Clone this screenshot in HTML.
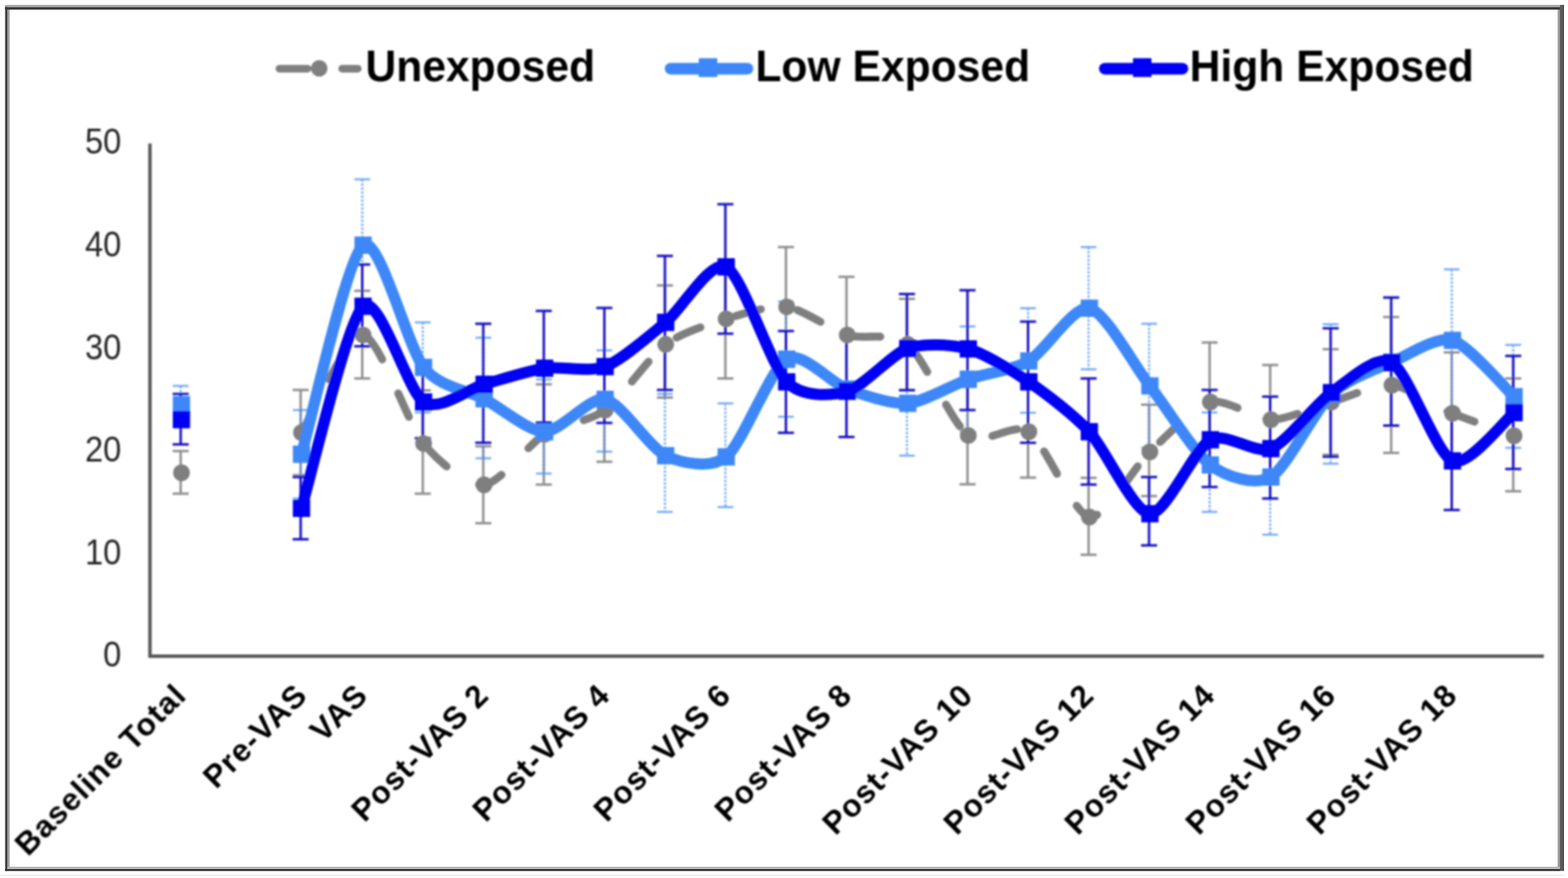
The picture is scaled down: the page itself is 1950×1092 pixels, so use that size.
<!DOCTYPE html>
<html lang="en">
<head>
<meta charset="utf-8">
<title>VAS chart: Unexposed, Low Exposed, High Exposed</title>
<style>
html,body{margin:0;padding:0;background:#ffffff;}
body{width:1950px;height:1092px;overflow:hidden;font-family:"Liberation Sans",Arial,Helvetica,sans-serif;}
svg{display:block;}
</style>
</head>
<body>
<svg role="img" aria-label="Line chart of Unexposed, Low Exposed and High Exposed groups across VAS time points" width="1950" height="1092" viewBox="0 0 1950 1092" font-family="'Liberation Sans', Arial, Helvetica, sans-serif">
<defs><filter id="soft" filterUnits="userSpaceOnUse" x="0" y="0" width="1950" height="1092"><feGaussianBlur stdDeviation="1.1"/></filter><filter id="soft2" filterUnits="userSpaceOnUse" x="0" y="0" width="1950" height="1092"><feGaussianBlur stdDeviation="0.45"/></filter></defs>
<rect x="0" y="0" width="1950" height="1092" fill="#ffffff"/>
<g filter="url(#soft)">
<path d="M186.5,178.5 V816.2 H1920.0" fill="none" stroke="#555555" stroke-width="4.2" stroke-linejoin="miter"/>
<text transform="translate(150.8,829.4) scale(1,1.09)" text-anchor="end" font-size="40.6" fill="#262626">0</text>
<text transform="translate(150.8,701.8) scale(1,1.09)" text-anchor="end" font-size="40.6" fill="#262626">10</text>
<text transform="translate(150.8,574.1) scale(1,1.09)" text-anchor="end" font-size="40.6" fill="#262626">20</text>
<text transform="translate(150.8,446.5) scale(1,1.09)" text-anchor="end" font-size="40.6" fill="#262626">30</text>
<text transform="translate(150.8,318.8) scale(1,1.09)" text-anchor="end" font-size="40.6" fill="#262626">40</text>
<text transform="translate(150.8,191.2) scale(1,1.09)" text-anchor="end" font-size="40.6" fill="#262626">50</text>
<g stroke="#848484" stroke-width="3.0" fill="none" opacity="0.9">
<path d="M224.7,561.0 V614.0"/>
<path d="M214.7,561.0 H234.7"/>
<path d="M214.7,614.0 H234.7"/>
<path d="M373.9,485.0 V591.0"/>
<path d="M363.9,485.0 H383.9"/>
<path d="M363.9,591.0 H383.9"/>
<path d="M450.5,361.7 V470.7"/>
<path d="M440.5,361.7 H460.5"/>
<path d="M440.5,470.7 H460.5"/>
<path d="M525.8,485.5 V614.0"/>
<path d="M515.8,485.5 H535.8"/>
<path d="M515.8,614.0 H535.8"/>
<path d="M601.0,555.0 V650.7"/>
<path d="M591.0,555.0 H611.0"/>
<path d="M591.0,650.7 H611.0"/>
<path d="M676.3,478.0 V602.7"/>
<path d="M666.3,478.0 H686.3"/>
<path d="M666.3,602.7 H686.3"/>
<path d="M751.6,452.0 V574.3"/>
<path d="M741.6,452.0 H761.6"/>
<path d="M741.6,574.3 H761.6"/>
<path d="M826.9,355.0 V494.5"/>
<path d="M816.9,355.0 H836.9"/>
<path d="M816.9,494.5 H836.9"/>
<path d="M902.1,322.7 V470.7"/>
<path d="M892.1,322.7 H912.1"/>
<path d="M892.1,470.7 H912.1"/>
<path d="M977.4,307.3 V456.0"/>
<path d="M967.4,307.3 H987.4"/>
<path d="M967.4,456.0 H987.4"/>
<path d="M1052.7,344.3 V489.0"/>
<path d="M1042.7,344.3 H1062.7"/>
<path d="M1042.7,489.0 H1062.7"/>
<path d="M1127.9,371.7 V485.0"/>
<path d="M1117.9,371.7 H1137.9"/>
<path d="M1117.9,485.0 H1137.9"/>
<path d="M1203.2,481.0 V602.3"/>
<path d="M1193.2,481.0 H1213.2"/>
<path d="M1193.2,602.3 H1213.2"/>
<path d="M1278.5,480.0 V594.0"/>
<path d="M1268.5,480.0 H1288.5"/>
<path d="M1268.5,594.0 H1288.5"/>
<path d="M1353.8,594.3 V690.0"/>
<path d="M1343.8,594.3 H1363.8"/>
<path d="M1343.8,690.0 H1363.8"/>
<path d="M1429.0,503.3 V617.0"/>
<path d="M1419.0,503.3 H1439.0"/>
<path d="M1419.0,617.0 H1439.0"/>
<path d="M1504.3,426.0 V574.0"/>
<path d="M1494.3,426.0 H1514.3"/>
<path d="M1494.3,574.0 H1514.3"/>
<path d="M1579.6,454.0 V590.0"/>
<path d="M1569.6,454.0 H1589.6"/>
<path d="M1569.6,590.0 H1589.6"/>
<path d="M1654.8,434.3 V565.7"/>
<path d="M1644.8,434.3 H1664.8"/>
<path d="M1644.8,565.7 H1664.8"/>
<path d="M1730.1,394.3 V563.3"/>
<path d="M1720.1,394.3 H1740.1"/>
<path d="M1720.1,563.3 H1740.1"/>
<path d="M1805.4,438.3 V560.0"/>
<path d="M1795.4,438.3 H1815.4"/>
<path d="M1881.9,470.7 V611.0"/>
<path d="M1871.9,470.7 H1891.9"/>
<path d="M1871.9,611.0 H1891.9"/>
</g>
<g stroke="#3d87f8" stroke-width="2.6" fill="none" opacity="0.7">
<path d="M224.7,480.0 V526.6" stroke-dasharray="3 2"/>
<path d="M214.9,480.0 H234.4"/>
<path d="M214.9,526.6 H234.4"/>
<path d="M373.9,510.0 V620.0" stroke-dasharray="3 2"/>
<path d="M364.2,510.0 H383.7"/>
<path d="M364.2,620.0 H383.7"/>
<path d="M450.5,223.0 V387.0" stroke-dasharray="3 2"/>
<path d="M440.8,223.0 H460.3"/>
<path d="M440.8,387.0 H460.3"/>
<path d="M525.8,401.0 V513.0" stroke-dasharray="3 2"/>
<path d="M516.0,401.0 H535.5"/>
<path d="M516.0,513.0 H535.5"/>
<path d="M601.0,420.0 V570.0" stroke-dasharray="3 2"/>
<path d="M591.3,420.0 H610.8"/>
<path d="M591.3,570.0 H610.8"/>
<path d="M676.3,472.0 V589.0" stroke-dasharray="3 2"/>
<path d="M666.6,472.0 H686.1"/>
<path d="M666.6,589.0 H686.1"/>
<path d="M751.6,435.8 V561.7" stroke-dasharray="3 2"/>
<path d="M741.8,435.8 H761.3"/>
<path d="M741.8,561.7 H761.3"/>
<path d="M826.9,490.0 V636.7" stroke-dasharray="3 2"/>
<path d="M817.1,490.0 H836.6"/>
<path d="M817.1,636.7 H836.6"/>
<path d="M902.1,501.7 V630.7" stroke-dasharray="3 2"/>
<path d="M892.4,501.7 H911.9"/>
<path d="M892.4,630.7 H911.9"/>
<path d="M977.4,375.0 V518.3" stroke-dasharray="3 2"/>
<path d="M967.6,375.0 H987.1"/>
<path d="M967.6,518.3 H987.1"/>
<path d="M1052.7,427.0 V543.0" stroke-dasharray="3 2"/>
<path d="M1127.9,437.0 V566.7" stroke-dasharray="3 2"/>
<path d="M1118.2,437.0 H1137.7"/>
<path d="M1118.2,566.7 H1137.7"/>
<path d="M1203.2,406.0 V537.0" stroke-dasharray="3 2"/>
<path d="M1193.5,406.0 H1213.0"/>
<path d="M1193.5,537.0 H1213.0"/>
<path d="M1278.5,383.3 V513.3" stroke-dasharray="3 2"/>
<path d="M1268.7,383.3 H1288.2"/>
<path d="M1268.7,513.3 H1288.2"/>
<path d="M1353.8,307.3 V459.3" stroke-dasharray="3 2"/>
<path d="M1344.0,307.3 H1363.5"/>
<path d="M1344.0,459.3 H1363.5"/>
<path d="M1429.0,402.7 V557.0" stroke-dasharray="3 2"/>
<path d="M1419.3,402.7 H1438.8"/>
<path d="M1419.3,557.0 H1438.8"/>
<path d="M1504.3,513.0 V636.7" stroke-dasharray="3 2"/>
<path d="M1494.5,513.0 H1514.0"/>
<path d="M1494.5,636.7 H1514.0"/>
<path d="M1579.6,521.0 V665.0" stroke-dasharray="3 2"/>
<path d="M1569.8,521.0 H1589.3"/>
<path d="M1569.8,665.0 H1589.3"/>
<path d="M1654.8,403.3 V576.7" stroke-dasharray="3 2"/>
<path d="M1645.1,403.3 H1664.6"/>
<path d="M1645.1,576.7 H1664.6"/>
<path d="M1730.1,370.3 V529.3" stroke-dasharray="3 2"/>
<path d="M1720.3,370.3 H1739.8"/>
<path d="M1720.3,529.3 H1739.8"/>
<path d="M1805.4,335.0 V511.0" stroke-dasharray="3 2"/>
<path d="M1795.6,335.0 H1815.1"/>
<path d="M1795.6,511.0 H1815.1"/>
<path d="M1881.9,429.0 V557.0" stroke-dasharray="3 2"/>
<path d="M1872.2,429.0 H1891.7"/>
<path d="M1872.2,557.0 H1891.7"/>
</g>
<g stroke="#180ec4" stroke-width="3.0" fill="none" opacity="1.0">
<path d="M224.7,490.0 V552.7"/>
<path d="M214.7,490.0 H234.7"/>
<path d="M214.7,552.7 H234.7"/>
<path d="M373.9,593.3 V670.7"/>
<path d="M363.9,593.3 H383.9"/>
<path d="M363.9,670.7 H383.9"/>
<path d="M450.5,329.0 V430.7"/>
<path d="M440.5,329.0 H460.5"/>
<path d="M440.5,430.7 H460.5"/>
<path d="M525.8,455.0 V545.0"/>
<path d="M515.8,455.0 H535.8"/>
<path d="M515.8,545.0 H535.8"/>
<path d="M601.0,402.7 V550.7"/>
<path d="M591.0,402.7 H611.0"/>
<path d="M591.0,550.7 H611.0"/>
<path d="M676.3,386.7 V525.5"/>
<path d="M666.3,386.7 H686.3"/>
<path d="M666.3,525.5 H686.3"/>
<path d="M751.6,383.0 V526.0"/>
<path d="M741.6,383.0 H761.6"/>
<path d="M741.6,526.0 H761.6"/>
<path d="M826.9,318.3 V485.0"/>
<path d="M816.9,318.3 H836.9"/>
<path d="M816.9,485.0 H836.9"/>
<path d="M902.1,254.0 V415.0"/>
<path d="M892.1,254.0 H912.1"/>
<path d="M892.1,415.0 H912.1"/>
<path d="M977.4,411.7 V538.3"/>
<path d="M967.4,411.7 H987.4"/>
<path d="M967.4,538.3 H987.4"/>
<path d="M1052.7,424.0 V543.5"/>
<path d="M1042.7,543.5 H1062.7"/>
<path d="M1127.9,365.7 V485.3"/>
<path d="M1117.9,365.7 H1137.9"/>
<path d="M1117.9,485.3 H1137.9"/>
<path d="M1203.2,361.0 V510.0"/>
<path d="M1193.2,361.0 H1213.2"/>
<path d="M1193.2,510.0 H1213.2"/>
<path d="M1278.5,400.0 V550.7"/>
<path d="M1268.5,400.0 H1288.5"/>
<path d="M1268.5,550.7 H1288.5"/>
<path d="M1353.8,470.7 V602.7"/>
<path d="M1343.8,470.7 H1363.8"/>
<path d="M1343.8,602.7 H1363.8"/>
<path d="M1429.0,593.3 V678.3"/>
<path d="M1419.0,593.3 H1439.0"/>
<path d="M1419.0,678.3 H1439.0"/>
<path d="M1504.3,485.0 V605.7"/>
<path d="M1494.3,485.0 H1514.3"/>
<path d="M1494.3,605.7 H1514.3"/>
<path d="M1579.6,493.3 V620.0"/>
<path d="M1569.6,493.3 H1589.6"/>
<path d="M1569.6,620.0 H1589.6"/>
<path d="M1654.8,408.3 V568.0"/>
<path d="M1644.8,408.3 H1664.8"/>
<path d="M1644.8,568.0 H1664.8"/>
<path d="M1730.1,370.0 V529.3"/>
<path d="M1720.1,370.0 H1740.1"/>
<path d="M1720.1,529.3 H1740.1"/>
<path d="M1805.4,512.0 V634.3"/>
<path d="M1795.4,512.0 H1815.4"/>
<path d="M1795.4,634.3 H1815.4"/>
<path d="M1881.9,442.7 V583.3"/>
<path d="M1871.9,442.7 H1891.9"/>
<path d="M1871.9,583.3 H1891.9"/>
</g>
<g fill="none" stroke="#7f7f7f" stroke-width="9.8" stroke-linecap="round" stroke-dasharray="32 46.56">
<path d="M374.9,538.0 C384.9,522.2 431.8,414.9 451.5,416.7" stroke-dashoffset="3.90"/>
<path d="M451.5,416.7 C471.2,418.5 507.2,527.5 526.8,551.7" stroke-dashoffset="71.05"/>
<path d="M526.8,551.7 C546.4,575.9 582.5,604.5 602.0,603.0" stroke-dashoffset="70.21"/>
<path d="M602.0,603.0 C621.6,601.5 657.7,552.1 677.3,540.0" stroke-dashoffset="6.42"/>
<path d="M677.3,540.0 C696.9,527.9 733.0,524.5 752.6,510.0" stroke-dashoffset="26.98"/>
<path d="M752.6,510.0 C772.2,495.5 808.3,443.0 827.9,428.3" stroke-dashoffset="29.78"/>
<path d="M827.9,428.3 C847.4,413.6 883.6,402.8 903.1,396.7" stroke-dashoffset="62.49"/>
<path d="M903.1,396.7 C922.7,390.6 958.8,379.1 978.4,381.7" stroke-dashoffset="65.92"/>
<path d="M978.4,381.7 C998.0,384.3 1034.1,410.6 1053.7,416.7" stroke-dashoffset="64.57"/>
<path d="M1053.7,416.7 C1073.2,422.8 1109.4,412.1 1128.9,428.3" stroke-dashoffset="69.30"/>
<path d="M1128.9,428.3 C1148.5,444.6 1184.6,527.6 1204.2,541.7" stroke-dashoffset="68.18"/>
<path d="M1204.2,541.7 C1223.8,555.8 1259.9,523.8 1279.5,537.0" stroke-dashoffset="47.70"/>
<path d="M1279.5,537.0 C1299.1,550.2 1335.2,639.8 1354.8,643.0" stroke-dashoffset="47.32"/>
<path d="M1354.8,643.0 C1374.3,646.2 1410.4,580.6 1430.0,562.0" stroke-dashoffset="21.63"/>
<path d="M1430.0,562.0 C1449.6,543.4 1485.7,505.2 1505.3,500.0" stroke-dashoffset="60.83"/>
<path d="M1505.3,500.0 C1524.9,494.8 1561.0,522.0 1580.6,522.0" stroke-dashoffset="75.42"/>
<path d="M1580.6,522.0 C1600.1,522.0 1636.3,505.6 1655.8,500.0" stroke-dashoffset="76.24"/>
<path d="M1655.8,500.0 C1675.4,494.4 1711.5,477.2 1731.1,479.0" stroke-dashoffset="76.36"/>
<path d="M1731.1,479.0 C1750.7,480.8 1786.6,505.8 1806.4,514.0" stroke-dashoffset="1.81"/>
<path d="M1806.4,514.0 C1826.1,522.2 1873.0,538.4 1882.9,542.0" stroke-dashoffset="2.61"/>
</g>
<circle cx="225.7" cy="588.0" r="10.5" fill="#7f7f7f"/>
<circle cx="374.9" cy="538.0" r="10.5" fill="#7f7f7f"/>
<circle cx="451.5" cy="416.7" r="10.5" fill="#7f7f7f"/>
<circle cx="526.8" cy="551.7" r="10.5" fill="#7f7f7f"/>
<circle cx="602.0" cy="603.0" r="10.5" fill="#7f7f7f"/>
<circle cx="677.3" cy="540.0" r="10.5" fill="#7f7f7f"/>
<circle cx="752.6" cy="510.0" r="10.5" fill="#7f7f7f"/>
<circle cx="827.9" cy="428.3" r="10.5" fill="#7f7f7f"/>
<circle cx="903.1" cy="396.7" r="10.5" fill="#7f7f7f"/>
<circle cx="978.4" cy="381.7" r="10.5" fill="#7f7f7f"/>
<circle cx="1053.7" cy="416.7" r="10.5" fill="#7f7f7f"/>
<circle cx="1128.9" cy="428.3" r="10.5" fill="#7f7f7f"/>
<circle cx="1204.2" cy="541.7" r="10.5" fill="#7f7f7f"/>
<circle cx="1279.5" cy="537.0" r="10.5" fill="#7f7f7f"/>
<circle cx="1354.8" cy="643.0" r="10.5" fill="#7f7f7f"/>
<circle cx="1430.0" cy="562.0" r="10.5" fill="#7f7f7f"/>
<circle cx="1505.3" cy="500.0" r="10.5" fill="#7f7f7f"/>
<circle cx="1580.6" cy="522.0" r="10.5" fill="#7f7f7f"/>
<circle cx="1655.8" cy="500.0" r="10.5" fill="#7f7f7f"/>
<circle cx="1731.1" cy="479.0" r="10.5" fill="#7f7f7f"/>
<circle cx="1806.4" cy="514.0" r="10.5" fill="#7f7f7f"/>
<circle cx="1882.9" cy="542.0" r="10.5" fill="#7f7f7f"/>
<path d="M374.9,565.0 C384.9,531.2 431.8,319.0 451.5,305.0 C471.2,291.0 507.2,432.2 526.8,457.0 C546.4,481.8 582.5,485.6 602.0,496.0 C621.6,506.4 657.7,536.9 677.3,537.0 C696.9,537.1 733.0,492.8 752.6,496.7 C772.2,500.6 808.3,557.4 827.9,566.7 C847.4,576.0 883.6,583.9 903.1,568.3 C922.7,552.7 958.8,457.7 978.4,446.7 C998.0,435.7 1034.1,476.9 1053.7,484.0 C1073.2,491.1 1109.4,503.3 1128.9,501.7 C1148.5,500.1 1184.6,478.6 1204.2,471.7 C1223.8,464.8 1259.9,460.5 1279.5,449.0 C1299.1,437.5 1335.2,379.3 1354.8,383.3 C1374.3,387.3 1410.4,454.6 1430.0,480.0 C1449.6,505.4 1485.7,563.6 1505.3,578.3 C1524.9,593.0 1561.0,604.8 1580.6,593.3 C1600.1,581.8 1636.3,508.6 1655.8,490.0 C1675.4,471.4 1711.5,459.2 1731.1,450.5 C1750.7,441.8 1786.6,417.7 1806.4,423.3 C1826.1,428.9 1873.0,484.2 1882.9,493.3" fill="none" stroke="#3d87f8" stroke-width="14" stroke-linejoin="round"/>
<rect x="214.9" y="492.6" width="21.5" height="21.5" fill="#3d87f8"/>
<rect x="364.2" y="554.2" width="21.5" height="21.5" fill="#3d87f8"/>
<rect x="440.8" y="294.2" width="21.5" height="21.5" fill="#3d87f8"/>
<rect x="516.0" y="446.2" width="21.5" height="21.5" fill="#3d87f8"/>
<rect x="591.3" y="485.2" width="21.5" height="21.5" fill="#3d87f8"/>
<rect x="666.6" y="526.2" width="21.5" height="21.5" fill="#3d87f8"/>
<rect x="741.8" y="485.9" width="21.5" height="21.5" fill="#3d87f8"/>
<rect x="817.1" y="556.0" width="21.5" height="21.5" fill="#3d87f8"/>
<rect x="892.4" y="557.5" width="21.5" height="21.5" fill="#3d87f8"/>
<rect x="967.6" y="435.9" width="21.5" height="21.5" fill="#3d87f8"/>
<rect x="1042.9" y="473.2" width="21.5" height="21.5" fill="#3d87f8"/>
<rect x="1118.2" y="490.9" width="21.5" height="21.5" fill="#3d87f8"/>
<rect x="1193.5" y="460.9" width="21.5" height="21.5" fill="#3d87f8"/>
<rect x="1268.7" y="438.2" width="21.5" height="21.5" fill="#3d87f8"/>
<rect x="1344.0" y="372.6" width="21.5" height="21.5" fill="#3d87f8"/>
<rect x="1419.3" y="469.2" width="21.5" height="21.5" fill="#3d87f8"/>
<rect x="1494.5" y="567.5" width="21.5" height="21.5" fill="#3d87f8"/>
<rect x="1569.8" y="582.5" width="21.5" height="21.5" fill="#3d87f8"/>
<rect x="1645.1" y="479.2" width="21.5" height="21.5" fill="#3d87f8"/>
<rect x="1720.3" y="439.8" width="21.5" height="21.5" fill="#3d87f8"/>
<rect x="1795.6" y="412.6" width="21.5" height="21.5" fill="#3d87f8"/>
<rect x="1872.2" y="482.6" width="21.5" height="21.5" fill="#3d87f8"/>
<path d="M374.9,632.3 C384.9,599.6 431.8,398.2 451.5,381.0 C471.2,363.8 507.2,487.4 526.8,500.0 C546.4,512.6 582.5,483.5 602.0,478.0 C621.6,472.5 657.7,460.9 677.3,458.0 C696.9,455.1 733.0,463.4 752.6,456.0 C772.2,448.6 808.3,417.1 827.9,401.0 C847.4,384.9 883.6,322.4 903.1,332.0 C922.7,341.6 958.8,454.9 978.4,475.0 C998.0,495.1 1034.1,492.1 1053.7,486.7 C1073.2,481.3 1109.4,440.2 1128.9,433.3 C1148.5,426.4 1184.6,428.6 1204.2,434.0 C1223.8,439.4 1259.9,461.6 1279.5,475.0 C1299.1,488.4 1335.2,515.7 1354.8,537.0 C1374.3,558.3 1410.4,637.7 1430.0,639.0 C1449.6,640.3 1485.7,557.5 1505.3,547.0 C1524.9,536.5 1561.0,565.6 1580.6,558.0 C1600.1,550.4 1636.3,502.2 1655.8,488.3 C1675.4,474.4 1711.5,439.9 1731.1,451.0 C1750.7,462.1 1786.6,565.2 1806.4,573.3 C1826.1,581.4 1873.0,521.1 1882.9,513.3" fill="none" stroke="#0200f4" stroke-width="14" stroke-linejoin="round"/>
<rect x="214.9" y="511.2" width="21.5" height="21.5" fill="#0200f4"/>
<rect x="364.2" y="621.5" width="21.5" height="21.5" fill="#0200f4"/>
<rect x="440.8" y="370.2" width="21.5" height="21.5" fill="#0200f4"/>
<rect x="516.0" y="489.2" width="21.5" height="21.5" fill="#0200f4"/>
<rect x="591.3" y="467.2" width="21.5" height="21.5" fill="#0200f4"/>
<rect x="666.6" y="447.2" width="21.5" height="21.5" fill="#0200f4"/>
<rect x="741.8" y="445.2" width="21.5" height="21.5" fill="#0200f4"/>
<rect x="817.1" y="390.2" width="21.5" height="21.5" fill="#0200f4"/>
<rect x="892.4" y="321.2" width="21.5" height="21.5" fill="#0200f4"/>
<rect x="967.6" y="464.2" width="21.5" height="21.5" fill="#0200f4"/>
<rect x="1042.9" y="475.9" width="21.5" height="21.5" fill="#0200f4"/>
<rect x="1118.2" y="422.6" width="21.5" height="21.5" fill="#0200f4"/>
<rect x="1193.5" y="423.2" width="21.5" height="21.5" fill="#0200f4"/>
<rect x="1268.7" y="464.2" width="21.5" height="21.5" fill="#0200f4"/>
<rect x="1344.0" y="526.2" width="21.5" height="21.5" fill="#0200f4"/>
<rect x="1419.3" y="628.2" width="21.5" height="21.5" fill="#0200f4"/>
<rect x="1494.5" y="536.2" width="21.5" height="21.5" fill="#0200f4"/>
<rect x="1569.8" y="547.2" width="21.5" height="21.5" fill="#0200f4"/>
<rect x="1645.1" y="477.6" width="21.5" height="21.5" fill="#0200f4"/>
<rect x="1720.3" y="440.2" width="21.5" height="21.5" fill="#0200f4"/>
<rect x="1795.6" y="562.5" width="21.5" height="21.5" fill="#0200f4"/>
<rect x="1872.2" y="502.5" width="21.5" height="21.5" fill="#0200f4"/>
<path d="M347.5,85.4 H382.5 M425.5,85.4 H445" stroke="#7f7f7f" stroke-width="9.5" stroke-linecap="round" fill="none"/>
<circle cx="397" cy="85.0" r="10.3" fill="#7f7f7f"/>
<path d="M834,85.4 H929.5" stroke="#3d87f8" stroke-width="14.5" stroke-linecap="round" fill="none"/>
<rect x="869" y="72.4" width="23" height="23.4" fill="#3d87f8"/>
<path d="M1374,85.4 H1470.5" stroke="#0200f4" stroke-width="14.5" stroke-linecap="round" fill="none"/>
<rect x="1409" y="72.4" width="23" height="23.4" fill="#0200f4"/>
<text transform="translate(454.5,100.6) scale(1,1.03)" font-size="53" font-weight="bold" fill="#000000">Unexposed</text>
<text transform="translate(939.5,100.6) scale(1,1.03)" font-size="53" font-weight="bold" fill="#000000">Low Exposed</text>
<text transform="translate(1479.5,100.6) scale(1,1.03)" font-size="53" font-weight="bold" fill="#000000">High Exposed</text>
<text transform="translate(233.9,866.8) rotate(-45)" text-anchor="end" font-size="39.3" font-weight="bold" letter-spacing="1.3" fill="#000000">Baseline Total</text>
<text transform="translate(384.4,866.8) rotate(-45)" text-anchor="end" font-size="39.3" font-weight="bold" letter-spacing="1.3" fill="#000000">Pre-VAS</text>
<text transform="translate(459.7,866.8) rotate(-45)" text-anchor="end" font-size="39.3" font-weight="bold" letter-spacing="1.3" fill="#000000">VAS</text>
<text transform="translate(610.2,866.8) rotate(-45)" text-anchor="end" font-size="39.3" font-weight="bold" letter-spacing="1.3" fill="#000000">Post-VAS 2</text>
<text transform="translate(760.8,866.8) rotate(-45)" text-anchor="end" font-size="39.3" font-weight="bold" letter-spacing="1.3" fill="#000000">Post-VAS 4</text>
<text transform="translate(911.3,866.8) rotate(-45)" text-anchor="end" font-size="39.3" font-weight="bold" letter-spacing="1.3" fill="#000000">Post-VAS 6</text>
<text transform="translate(1061.9,866.8) rotate(-45)" text-anchor="end" font-size="39.3" font-weight="bold" letter-spacing="1.3" fill="#000000">Post-VAS 8</text>
<text transform="translate(1212.4,866.8) rotate(-45)" text-anchor="end" font-size="39.3" font-weight="bold" letter-spacing="1.3" fill="#000000">Post-VAS 10</text>
<text transform="translate(1363.0,866.8) rotate(-45)" text-anchor="end" font-size="39.3" font-weight="bold" letter-spacing="1.3" fill="#000000">Post-VAS 12</text>
<text transform="translate(1513.5,866.8) rotate(-45)" text-anchor="end" font-size="39.3" font-weight="bold" letter-spacing="1.3" fill="#000000">Post-VAS 14</text>
<text transform="translate(1664.0,866.8) rotate(-45)" text-anchor="end" font-size="39.3" font-weight="bold" letter-spacing="1.3" fill="#000000">Post-VAS 16</text>
<text transform="translate(1814.6,866.8) rotate(-45)" text-anchor="end" font-size="39.3" font-weight="bold" letter-spacing="1.3" fill="#000000">Post-VAS 18</text>
</g>
<g filter="url(#soft2)">
<g shape-rendering="auto">
<rect x="6.4" y="6.2" width="1938.6" height="2.9" fill="#a2a2a2"/>
<rect x="6.4" y="9" width="1938.6" height="3" fill="#3c3c3c"/>
<rect x="9" y="12" width="3" height="1069" fill="#a2a2a2"/>
<rect x="6.4" y="8.6" width="2.7" height="1074.6" fill="#3a3a3a"/>
<rect x="1937.2" y="12" width="2.9" height="1069" fill="#9a9a9a"/>
<rect x="1940" y="6.2" width="5" height="1077" fill="#5c5c5c"/>
<rect x="1943.6" y="6.2" width="1.4" height="1077" fill="#444444"/>
<rect x="9" y="1078" width="1931" height="3.1" fill="#b4b4b4"/>
<rect x="6.4" y="1081" width="1934" height="2.3" fill="#2c2c2c"/>
<rect x="0" y="1087.8" width="1946" height="1.4" fill="#e9e9e9"/>
</g>
</g>
</svg>
</body>
</html>
